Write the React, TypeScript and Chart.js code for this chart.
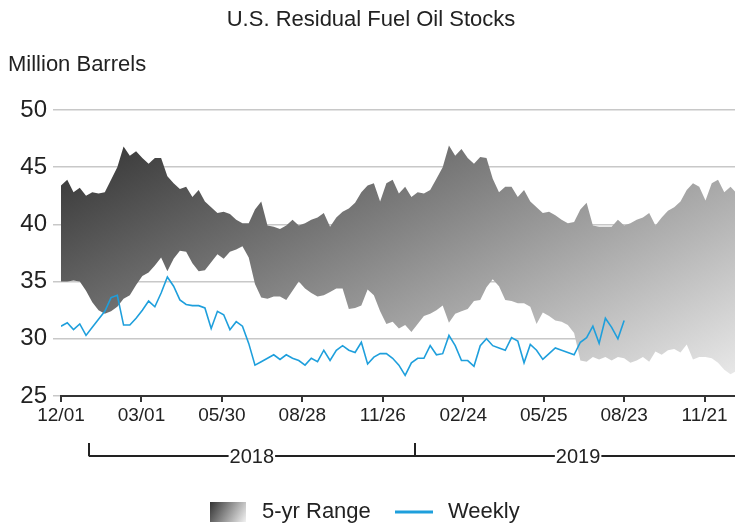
import React, { useEffect, useRef } from 'react';
import { Chart, registerables } from 'chart.js';

Chart.register(...registerables);

const FONT = '"Liberation Sans", Arial, sans-serif';
const TITLE = 'U.S. Residual Fuel Oil Stocks';
const Y_TITLE = 'Million Barrels';

// Weekly series: one value per week starting 12/01/2017 (day offsets = week * 7)
const rangeMax = [
  43.4, 43.9, 42.8, 43.2, 42.5, 42.8, 42.7, 42.8, 43.9, 45.0,
  46.8, 46.0, 46.4, 45.8, 45.3, 45.8, 45.8, 44.2, 43.6, 43.1,
  43.3, 42.4, 43.0, 42.0, 41.5, 41.0, 41.1, 40.9, 40.4, 40.1,
  40.1, 41.3, 42.0, 39.9, 39.8, 39.6, 39.9, 40.4, 39.9, 40.1,
  40.4, 40.6, 41.0, 39.8, 40.6, 41.1, 41.4, 41.9, 42.8, 43.4,
  43.6, 42.0, 43.6, 43.9, 42.7, 43.3, 42.4, 42.8, 42.7, 43.0,
  44.0, 45.0, 46.9, 46.0, 46.6, 45.8, 45.3, 45.9, 45.8, 44.0,
  42.8, 43.3, 43.3, 42.4, 43.0, 42.0, 41.5, 41.0, 41.1, 40.8,
  40.4, 40.1, 40.2, 41.3, 41.9, 39.9, 39.8, 39.8, 39.8, 40.4,
  39.9, 40.1, 40.4, 40.6, 41.0, 39.9, 40.6, 41.2, 41.5, 42.0,
  43.0, 43.6, 43.3, 42.1, 43.6, 43.9, 42.8, 43.3, 42.7,
];

const rangeMin = [
  35.0, 35.0, 35.1, 35.0, 34.2, 33.2, 32.5, 32.2, 32.4, 32.8,
  33.5, 33.8, 34.7, 35.5, 35.8, 36.4, 37.1, 35.9, 37.0, 37.7,
  37.6, 36.6, 35.9, 36.0, 36.7, 37.4, 37.0, 37.6, 37.8, 38.1,
  37.1, 34.8, 33.6, 33.5, 33.7, 33.7, 33.4, 34.2, 35.0, 34.4,
  34.0, 33.7, 33.8, 34.1, 34.4, 34.4, 32.6, 32.7, 32.9, 34.3,
  33.8, 32.4, 31.3, 31.5, 30.9, 31.2, 30.6, 31.3, 32.0, 32.2,
  32.5, 32.9, 31.4, 32.2, 32.4, 32.6, 33.3, 33.4, 34.5, 35.2,
  34.6, 33.4, 33.3, 33.1, 33.1, 32.8, 31.3, 32.3, 32.0, 31.6,
  31.5, 31.2, 30.5, 28.1, 28.0, 28.4, 28.2, 28.4, 28.1, 28.4,
  28.3, 27.9, 28.1, 28.4, 28.0, 28.9, 28.6, 29.0, 29.1, 28.8,
  29.5, 28.2, 28.4, 28.4, 28.3, 27.9, 27.3, 26.9, 27.2,
];

const weekly = [
  31.1, 31.4, 30.8, 31.3, 30.3, 31.0, 31.7, 32.4, 33.6, 33.8,
  31.2, 31.2, 31.8, 32.5, 33.3, 32.8, 34.0, 35.4, 34.6, 33.4,
  33.0, 32.9, 32.9, 32.7, 30.9, 32.4, 32.1, 30.8, 31.5, 31.1,
  29.6, 27.7, 28.0, 28.3, 28.6, 28.2, 28.6, 28.3, 28.1, 27.7,
  28.3, 28.0, 29.0, 28.1, 29.0, 29.4, 29.0, 28.8, 29.7, 27.8,
  28.4, 28.7, 28.7, 28.3, 27.7, 26.8, 27.9, 28.3, 28.3, 29.4,
  28.6, 28.7, 30.3, 29.4, 28.1, 28.1, 27.6, 29.4, 30.0, 29.4,
  29.2, 29.0, 30.1, 29.8, 27.9, 29.5, 29.0, 28.2, 28.7, 29.2,
  29.0, 28.8, 28.6, 29.7, 30.1, 31.1, 29.6, 31.8, 31.0, 30.0,
  31.6,
];

const tickDays = [0, 90, 180, 270, 360, 450, 540, 630, 720];
const tickLabels = ['12/01', '03/01', '05/30', '08/28', '11/26', '02/24', '05/25', '08/23', '11/21'];
const yearStartDays = [31, 396, 761];
const yearLabels = ['2018', '2019'];
const X_MAX_DAY = 754;
const Y_MIN = 25;
const Y_MAX = 50;
const Y_STEP = 5;

const toPoints = (arr: number[]) => arr.map((v, i) => ({ x: i * 7, y: v }));

const overlayPlugin = {
  id: 'overlayText',
  afterDraw(chart: any) {
    const { ctx } = chart;
    const xs = chart.scales.x;
    ctx.save();
    ctx.fillStyle = '#222';
    ctx.font = `22px ${FONT}`;
    ctx.textBaseline = 'middle';
    ctx.textAlign = 'center';
    ctx.fillText(TITLE, 371, 20);
    ctx.textAlign = 'left';
    ctx.fillText(Y_TITLE, 8, 65);

    // year brackets
    const lineY = 456;
    const tickTop = 443;
    ctx.strokeStyle = '#222';
    ctx.lineWidth = 2;
    const firstX = xs.getPixelForValue(yearStartDays[0]);
    ctx.beginPath();
    ctx.moveTo(firstX, lineY);
    ctx.lineTo(chart.width, lineY);
    ctx.stroke();
    for (let i = 0; i < yearLabels.length; i++) {
      const px = Math.round(xs.getPixelForValue(yearStartDays[i]));
      ctx.beginPath();
      ctx.moveTo(px, tickTop);
      ctx.lineTo(px, lineY);
      ctx.stroke();
    }
    ctx.font = `20px ${FONT}`;
    ctx.textAlign = 'center';
    for (let i = 0; i < yearLabels.length; i++) {
      const a = xs.getPixelForValue(yearStartDays[i]);
      const b = xs.getPixelForValue(yearStartDays[i + 1]);
      const mid = (a + b) / 2;
      const w = ctx.measureText(yearLabels[i]).width;
      ctx.fillStyle = '#fff';
      ctx.fillRect(mid - w / 2 - 1, lineY - 3, w + 2, 6);
      ctx.fillStyle = '#222';
      ctx.fillText(yearLabels[i], mid, lineY + 1);
    }

    // legend
    const ly = 512;
    const g = ctx.createLinearGradient(210, 502, 246, 522);
    g.addColorStop(0, '#333333');
    g.addColorStop(1, '#f2f2f2');
    ctx.fillStyle = g;
    ctx.fillRect(210, 502, 36, 20);
    ctx.fillStyle = '#222';
    ctx.font = `22px ${FONT}`;
    ctx.textAlign = 'left';
    ctx.fillText('5-yr Range', 262, ly);
    ctx.strokeStyle = '#1e9fdc';
    ctx.lineWidth = 3;
    ctx.beginPath();
    ctx.moveTo(395, ly);
    ctx.lineTo(433, ly);
    ctx.stroke();
    ctx.fillText('Weekly', 448, ly);
    ctx.restore();
  },
};

export default function App() {
  const canvasRef = useRef<HTMLCanvasElement | null>(null);

  useEffect(() => {
    const canvas = canvasRef.current;
    if (!canvas) return;
    const chart = new Chart(canvas, {
      type: 'line',
      data: {
        datasets: [
          {
            label: 'Weekly',
            data: toPoints(weekly),
            borderColor: '#1e9fdc',
            borderWidth: 1.6,
            pointRadius: 0,
            tension: 0,
            fill: false,
          },
          {
            label: 'Min',
            data: toPoints(rangeMin),
            borderColor: 'transparent',
            borderWidth: 0,
            pointRadius: 0,
            tension: 0,
            fill: false,
          },
          {
            label: '5-yr Range',
            data: toPoints(rangeMax),
            borderColor: 'transparent',
            borderWidth: 0,
            pointRadius: 0,
            tension: 0,
            fill: '-1',
            backgroundColor: (c: any) => {
              const ca = c.chart.chartArea;
              if (!ca) return '#888';
              const g = c.chart.ctx.createLinearGradient(ca.left, ca.top, ca.left + 264, ca.top + 527);
              g.addColorStop(0, 'rgb(39,39,39)');
              g.addColorStop(1, 'rgb(250,250,250)');
              return g;
            },
          },
        ],
      },
      options: {
        responsive: false,
        animation: false,
        events: [],
        layout: { padding: { top: 110, left: 0, right: 0, bottom: 0 } },
        plugins: {
          legend: { display: false },
          tooltip: { enabled: false },
          title: { display: false },
        },
        scales: {
          x: {
            type: 'linear',
            min: 0,
            max: X_MAX_DAY,
            afterFit: (s: any) => { s.height = 131; },
            afterBuildTicks: (s: any) => { s.ticks = tickDays.map((v) => ({ value: v })); },
            border: { display: true, color: '#333', width: 2 },
            grid: { drawOnChartArea: false, drawTicks: true, tickLength: 6, color: '#333', lineWidth: 2 },
            ticks: {
              autoSkip: false,
              maxRotation: 0,
              padding: 2,
              color: '#222',
              font: { family: FONT, size: 19 },
              callback: (_v: any, i: number) => tickLabels[i],
            },
          },
          y: {
            type: 'linear',
            min: Y_MIN,
            max: Y_MAX,
            afterFit: (s: any) => { s.width = 61; },
            border: { display: false },
            grid: { color: '#c8c8c8', lineWidth: 1.5, drawTicks: true, tickLength: 8 },
            ticks: {
              stepSize: Y_STEP,
              padding: 6,
              color: '#222',
              font: { family: FONT, size: 24 },
            },
          },
        },
      },
      plugins: [overlayPlugin],
    });
    return () => chart.destroy();
  }, []);

  return (
    <div style={{ position: 'fixed', left: 0, top: 0, width: 735, height: 527, background: '#fff' }}>
      <canvas ref={canvasRef} width={735} height={527} />
    </div>
  );
}
